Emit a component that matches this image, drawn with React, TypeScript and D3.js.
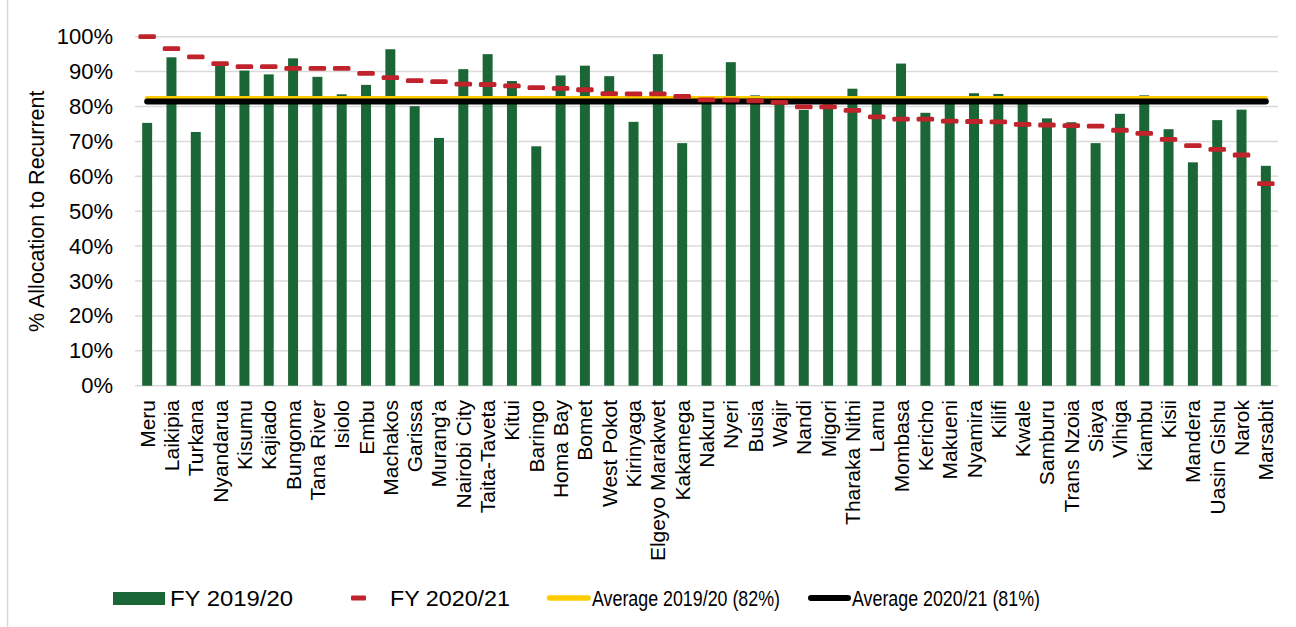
import React from "react";
import * as d3 from "d3";

const counties = [
  "Meru", "Laikipia", "Turkana", "Nyandarua", "Kisumu", "Kajiado", "Bungoma", "Tana River",
  "Isiolo", "Embu", "Machakos", "Garissa", "Murang’a", "Nairobi City", "Taita-Taveta", "Kitui",
  "Baringo", "Homa Bay", "Bomet", "West Pokot", "Kirinyaga", "Elgeyo Marakwet", "Kakamega",
  "Nakuru", "Nyeri", "Busia", "Wajir", "Nandi", "Migori", "Tharaka Nithi", "Lamu", "Mombasa",
  "Kericho", "Makueni", "Nyamira", "Kilifi", "Kwale", "Samburu", "Trans Nzoia", "Siaya",
  "Vihiga", "Kiambu", "Kisii", "Mandera", "Uasin Gishu", "Narok", "Marsabit",
];

const fy1920 = [
  75.3, 94.1, 72.7, 91.8, 90.3, 89.2, 93.8, 88.5, 83.5, 86.2, 96.4, 80.1,
  71.0, 90.7, 95.0, 87.3, 68.6, 88.9, 91.7, 88.7, 75.6, 95.0, 69.5,
  81.8, 92.7, 83.2, 81.0, 79.0, 81.5, 85.1, 81.3, 92.3, 78.2, 81.0, 83.8,
  83.6, 81.0, 76.6, 75.5, 69.5, 77.9, 83.2, 73.5, 64.0, 76.1, 79.1, 63.0,
];

const fy2021 = [
  100, 96.6, 94.2, 92.3, 91.4, 91.4, 90.9, 90.9, 90.9, 89.5, 88.3, 87.4,
  87.1, 86.4, 86.3, 85.9, 85.4, 85.2, 84.8, 83.7, 83.6, 83.6, 82.9,
  81.9, 81.8, 81.6, 81.2, 79.9, 79.9, 78.9, 77.0, 76.4, 76.4, 75.8, 75.7,
  75.6, 74.9, 74.7, 74.5, 74.4, 73.2, 72.3, 70.6, 68.8, 67.7, 66.1, 57.9,
];

const avg1920 = 82.3;
const avg2021 = 81.4;

const yTicks = [0, 10, 20, 30, 40, 50, 60, 70, 80, 90, 100];

const legendItems = [
  { label: "FY 2019/20", kind: "bar" },
  { label: "FY 2020/21", kind: "dash" },
  { label: "Average 2019/20 (82%)", kind: "yellow" },
  { label: "Average 2020/21 (81%)", kind: "black" },
];

const GREEN = "#1b6636";
const RED = "#c0232b";
const YELLOW = "#ffcc00";
const GRID = "#d9d9d9";
const FONT = "Arial, 'Liberation Sans', Helvetica, sans-serif";

export default function App() {
  const W = 1296;
  const H = 627;
  const left = 135;
  const right = 1278;
  const top = 36.7;
  const bottom = 385.7;

  const x = d3.scaleBand<string>().domain(counties).range([left, right]).paddingInner(0.59).paddingOuter(0.295);
  const xc = (c: string) => (x(c) as number) + x.bandwidth() / 2;
  const y = d3.scaleLinear().domain([0, 100]).range([bottom, top]);

  const avgLine = (v: number) =>
    d3.line<string>().x((c) => xc(c)).y(() => y(v))([counties[0], counties[counties.length - 1]]) as string;

  const legendPos = [
    { ix: 113, tx: 170, tw: 123 },
    { ix: 351, tx: 390, tw: 120 },
    { ix: 547, tx: 592, tw: 188 },
    { ix: 808, tx: 852, tw: 188 },
  ];

  return (
    <svg
      width={W}
      height={H}
      style={{ position: "absolute", left: 0, top: 0, display: "block", background: "#fff" }}
      fontFamily={FONT}
    >
      <rect x={0} y={0} width={W} height={H} fill="#fff" />
      <line x1={7.5} x2={7.5} y1={0} y2={H} stroke={GRID} strokeWidth={1.5} />

      {yTicks.map((t) => (
        <g key={t}>
          <line x1={left} x2={right} y1={y(t)} y2={y(t)} stroke={GRID} strokeWidth={1.5} />
          <text x={113} y={y(t)} textAnchor="end" dominantBaseline="central" fontSize={22} fill="#000">
            {t}%
          </text>
        </g>
      ))}

      <text
        transform={`translate(37,${(top + bottom) / 2}) rotate(-90)`}
        textAnchor="middle"
        dominantBaseline="central"
        fontSize={21.5}
        fill="#000"
      >
        % Allocation to Recurrent
      </text>

      {counties.map((c, i) => (
        <rect
          key={c}
          x={x(c)}
          y={y(fy1920[i])}
          width={x.bandwidth()}
          height={bottom - y(fy1920[i])}
          fill={GREEN}
        />
      ))}

      <path d={avgLine(avg1920)} stroke={YELLOW} strokeWidth={5} strokeLinecap="round" fill="none" />
      <path d={avgLine(avg2021)} stroke="#000" strokeWidth={6} strokeLinecap="round" fill="none" />

      {counties.map((c, i) => (
        <rect
          key={c}
          x={xc(c) - 8.75}
          y={y(fy2021[i]) - 2.4}
          width={17.5}
          height={4.8}
          rx={1.5}
          fill={RED}
        />
      ))}

      {counties.map((c) => (
        <text
          key={c}
          transform={`translate(${xc(c)},400) rotate(-90)`}
          textAnchor="end"
          dominantBaseline="central"
          fontSize={21}
          fill="#000"
        >
          {c}
        </text>
      ))}

      {legendItems.map((it, i) => {
        const p = legendPos[i];
        const cy = 598;
        let icon = null;
        if (it.kind === "bar") icon = <rect x={p.ix} y={592} width={52} height={13} fill={GREEN} />;
        if (it.kind === "dash") icon = <rect x={p.ix} y={cy - 2.4} width={15} height={4.8} rx={1} fill={RED} />;
        if (it.kind === "yellow")
          icon = <line x1={p.ix + 2.5} x2={p.ix + 41} y1={cy} y2={cy} stroke={YELLOW} strokeWidth={5.5} strokeLinecap="round" />;
        if (it.kind === "black")
          icon = <line x1={p.ix + 3} x2={p.ix + 40} y1={cy} y2={cy} stroke="#000" strokeWidth={6} strokeLinecap="round" />;
        return (
          <g key={it.label}>
            {icon}
            <text
              x={p.tx}
              y={605.5}
              fontSize={22}
              fill="#000"
              textLength={p.tw}
              lengthAdjust="spacingAndGlyphs"
            >
              {it.label}
            </text>
          </g>
        );
      })}
    </svg>
  );
}
